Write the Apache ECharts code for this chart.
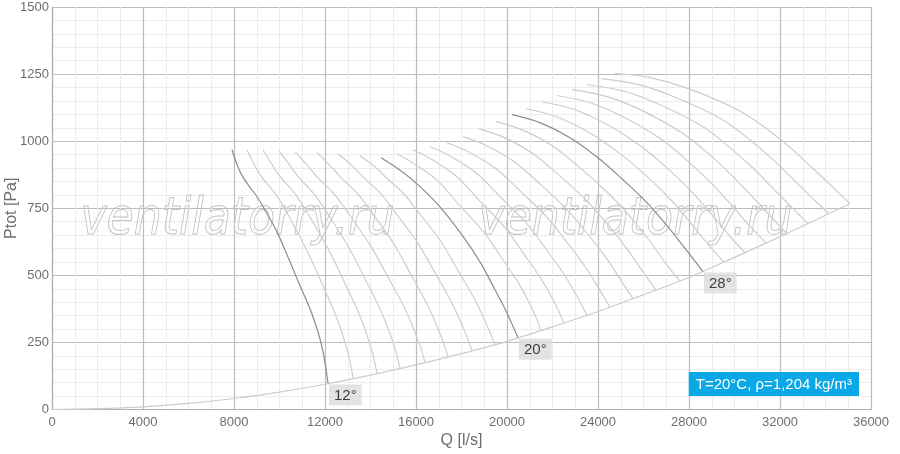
<!DOCTYPE html>
<html>
<head>
<meta charset="utf-8">
<script src="https://cdn.jsdelivr.net/npm/echarts@6/dist/echarts.min.js"></script>
<style>
html,body{margin:0;padding:0;background:#fff;}
#chart{width:900px;height:454px;}
</style>
</head>
<body>
<div id="chart"></div>
<script>
// Tick settings
const xTicks = [0, 4000, 8000, 12000, 16000, 20000, 24000, 28000, 32000, 36000];
const yTicks = [0, 250, 500, 750, 1000, 1250, 1500];

// Blade-angle curves [Q l/s, Ptot Pa]
const c12 = [[7912,968],[8088,923],[8308,879],[8615,838],[9011,793],[9407,737],[9890,662],[10330,577],[10813,479],[11429,356],[11868,233],[12132,97]];
const c13 = [[8571,968],[8865,917],[9223,866],[9866,798],[10458,713],[11246,585],[11926,458],[12567,330],[13033,203],[13231,118]];
const c14 = [[9275,968],[9631,918],[10027,868],[10703,802],[11330,718],[12169,594],[12883,469],[13559,344],[14060,219],[14286,136]];
const c15 = [[9978,964],[10398,916],[10829,867],[11534,802],[12185,721],[13068,600],[13808,479],[14512,357],[15044,236],[15297,155]];
const c16 = [[10681,961],[11181,914],[11653,867],[12396,804],[13081,725],[14024,607],[14796,489],[15539,371],[16110,254],[16396,175]];
const c17 = [[11648,957],[12201,911],[12685,866],[13419,805],[14096,729],[15040,615],[15794,500],[16529,386],[17105,272],[17407,196]];
const c18 = [[12571,953],[13184,909],[13690,865],[14427,806],[15104,733],[16061,623],[16813,513],[17549,402],[18138,292],[18462,219]];
const c19 = [[13538,946],[14203,904],[14725,861],[15452,805],[16120,734],[17075,629],[17811,523],[18538,417],[19132,311],[19473,241]];
const c20 = [[14461,938],[15209,897],[16044,841],[17055,755],[18066,645],[18813,550],[19473,446],[20000,360],[20483,267]];
const c21 = [[15165,953],[15836,920],[16931,854],[17976,755],[19026,656],[19818,558],[20590,459],[21191,360],[21495,294]];
const c22 = [[15868,968],[16605,936],[17746,871],[18841,774],[19917,677],[20740,580],[21529,483],[22160,387],[22505,322]];
const c23 = [[16615,979],[17422,948],[18596,885],[19734,790],[20832,696],[21680,602],[22481,507],[23136,413],[23516,350]];
const c24 = [[17363,994],[18237,963],[19448,902],[20630,810],[21740,718],[22614,626],[23424,534],[24104,442],[24527,381]];
const c25 = [[18066,1017],[19022,987],[20270,926],[21511,836],[22631,745],[23543,655],[24365,564],[25075,473],[25538,413]];
const c26 = [[18769,1046],[19812,1016],[21095,956],[22387,866],[23523,776],[24472,685],[25304,595],[26043,505],[26549,445]];
const c27 = [[19516,1073],[20640,1043],[21967,984],[23309,894],[24466,805],[25436,716],[26278,627],[27046,537],[27604,478]];
const c28 = [[20220,1099],[21450,1069],[22770,1013],[24000,938],[25100,856],[26150,771],[27033,685],[27912,591],[28615,514]];
const c29 = [[20835,1121],[22149,1092],[23559,1035],[25039,949],[26213,864],[27240,778],[28102,692],[28929,606],[29538,549]];
const c30 = [[21538,1147],[22930,1119],[24385,1063],[25929,978],[27116,894],[28133,810],[29016,725],[29846,641],[30462,585]];
const c31 = [[22198,1170],[23686,1142],[25184,1087],[26810,1005],[27995,922],[29024,840],[29915,757],[30769,675],[31385,620]];
const c32 = [[22857,1192],[24435,1165],[25995,1112],[27686,1031],[28887,951],[29917,870],[30815,790],[31694,710],[32308,656]];
const c33 = [[23516,1211],[25197,1185],[26800,1133],[28578,1056],[29772,978],[30812,900],[31715,822],[32619,745],[33231,693]];
const c34 = [[24132,1233],[25916,1208],[27580,1157],[29444,1082],[30656,1006],[31689,931],[32621,855],[33533,779],[34154,729]];
const c35 = [[24750,1252],[26290,1237],[28040,1194],[30240,1112],[32000,1008],[33450,898],[35077,767]];

// Lower boundary (system curve)
const lowerLine = [[0,0],[2000,3],[4000,10],[6000,23],[8000,41],[10000,65],[12000,94],[14000,128],[16000,166],[18000,208],[20000,254],[22000,308],[24000,365],[26000,428],[28000,492],[30000,567],[32000,644],[34000,724],[35077,767]];

const curves = [c12,c13,c14,c15,c16,c17,c18,c19,c20,c21,c22,c23,c24,c25,c26,c27,c28,c29,c30,c31,c32,c33,c34,c35];
const angles = [12,13,14,15,16,17,18,19,20,21,22,23,24,25,26,27,28,29,30,31,32,33,34,35];
const labeledAngles = [12, 20, 28];

const xAxisName = 'Q [l/s]';
const yAxisName = 'Ptot [Pa]';
const infoText = 'T=20°C, ρ=1,204 kg/m³';
const watermark = 'ventilatorry.ru';

const series = [];
series.push({
  type: 'line', data: lowerLine, showSymbol: false, smooth: 0.3,
  lineStyle: {color: '#cccccc', width: 1.2}, z: 3, silent: true
});
curves.forEach(function(c, i){
  const dark = labeledAngles.indexOf(angles[i]) >= 0;
  series.push({
    type: 'line', data: c, showSymbol: false, smooth: 0.35,
    lineStyle: {color: dark ? '#8c8c8c' : '#cccccc', width: dark ? 1.2 : 1.15},
    z: dark ? 5 : 4, silent: true
  });
});
const labelPts = [];
labeledAngles.forEach(function(a){
  const c = curves[angles.indexOf(a)];
  const last = c[c.length - 1];
  labelPts.push([last[0], last[1], a + '°']);
});
series.push({
  type: 'scatter', data: labelPts, symbolSize: 0, z: 10, silent: true,
  label: {
    show: true, position: [1, 1], align: 'left', verticalAlign: 'top',
    formatter: function(p){ return p.data[2]; },
    backgroundColor: '#dcdcdc', color: '#111111', fontSize: 15,
    fontFamily: 'Liberation Sans, Arial, sans-serif',
    padding: [4, 5, 2, 5]
  }
});

const chart = echarts.init(document.getElementById('chart'), null, {renderer: 'canvas'});
chart.setOption({
  animation: false,
  backgroundColor: '#ffffff',
  textStyle: {fontFamily: 'Liberation Sans, Arial, sans-serif'},
  grid: {left: 52, right: 29, top: 7, bottom: 44.5, containLabel: false, outerBoundsMode: 'none'},
  xAxis: {
    type: 'value', min: xTicks[0], max: xTicks[xTicks.length-1], interval: 4000,
    name: xAxisName, nameLocation: 'middle', nameGap: 23, nameMoveOverlap: false,
    nameTextStyle: {color: '#6e6e6e', fontSize: 16},
    axisLine: {show: true, lineStyle: {color: '#b0b0b0', width: 1.2}},
    axisTick: {show: false},
    axisLabel: {color: '#6e6e6e', fontSize: 13, margin: 6, formatter: function(v){ return String(v); }},
    splitLine: {show: true, lineStyle: {color: '#bdbdbd', width: 1.2}},
    minorTick: {show: false, splitNumber: 4},
    minorSplitLine: {show: true, lineStyle: {color: '#ececec', width: 1}}
  },
  yAxis: {
    type: 'value', min: yTicks[0], max: yTicks[yTicks.length-1], interval: 250,
    name: yAxisName, nameLocation: 'middle', nameGap: 32, nameRotate: 90, nameMoveOverlap: false,
    nameTextStyle: {color: '#6e6e6e', fontSize: 16},
    axisLine: {show: true, lineStyle: {color: '#b0b0b0', width: 1.2}},
    axisTick: {show: false},
    axisLabel: {color: '#6e6e6e', fontSize: 13, margin: 3, formatter: function(v){ return String(v); }},
    splitLine: {show: true, lineStyle: {color: '#bdbdbd', width: 1.2}},
    minorTick: {show: false, splitNumber: 5},
    minorSplitLine: {show: true, lineStyle: {color: '#ececec', width: 1}}
  },
  graphic: [
    {type: 'text', left: 80, top: 194, z: 1, silent: true, scaleX: 0.85,
     style: {text: watermark, font: 'italic 52px "DejaVu Sans"', fill: 'rgba(255,255,255,0)', stroke: '#c4c4c4', lineWidth: 1}},
    {type: 'text', left: 478, top: 194, z: 1, silent: true, scaleX: 0.85,
     style: {text: watermark, font: 'italic 52px "DejaVu Sans"', fill: 'rgba(255,255,255,0)', stroke: '#c4c4c4', lineWidth: 1}},
    {type: 'text', right: 41, bottom: 58, z: 20, silent: true,
     style: {text: infoText, font: '15px "Liberation Sans", Arial, sans-serif', fill: '#ffffff',
             backgroundColor: '#0aa8e6', padding: [5, 7, 4, 7]}}
  ],
  series: series
});
</script>
</body>
</html>
